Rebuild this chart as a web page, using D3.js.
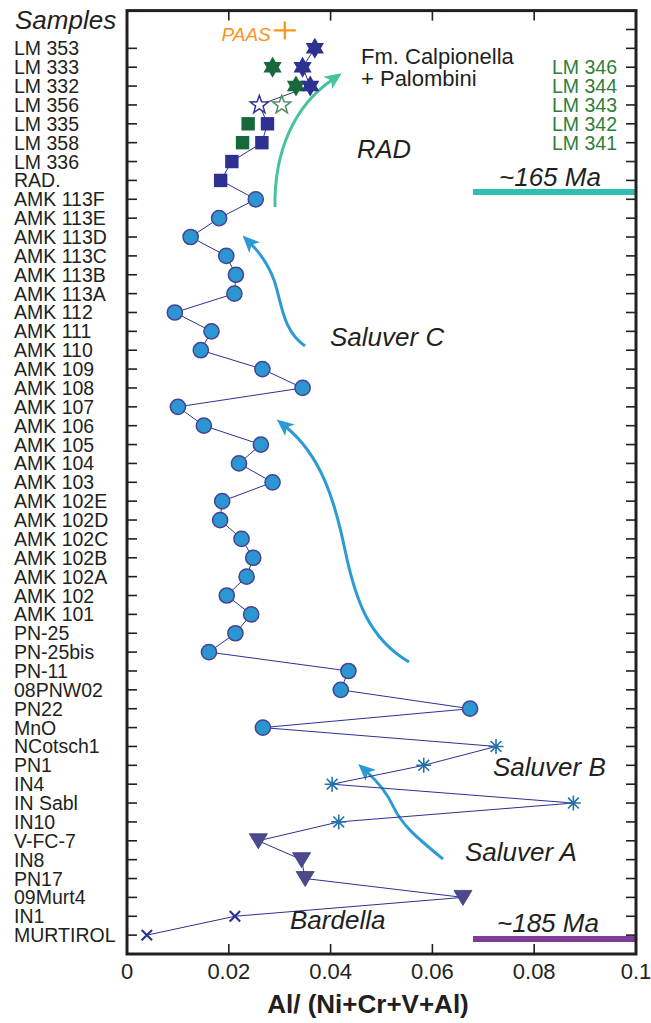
<!DOCTYPE html>
<html><head><meta charset="utf-8">
<script src="https://cdn.jsdelivr.net/npm/d3@7"></script>
<style>html,body{margin:0;padding:0;background:#fff}svg{display:block}</style>
</head><body>
<svg id="c" width="651" height="1023"></svg>
<script>
const samples = ["LM 353","LM 333","LM 332","LM 356","LM 335","LM 358","LM 336","RAD.",
"AMK 113F","AMK 113E","AMK 113D","AMK 113C","AMK 113B","AMK 113A","AMK 112","AMK 111","AMK 110",
"AMK 109","AMK 108","AMK 107","AMK 106","AMK 105","AMK 104","AMK 103","AMK 102E","AMK 102D",
"AMK 102C","AMK 102B","AMK 102A","AMK 102","AMK 101","PN-25","PN-25bis","PN-11","08PNW02","PN22",
"MnO","NCotsch1","PN1","IN4","IN Sabl","IN10","V-FC-7","IN8","PN17","09Murt4","IN1","MURTIROL"];
const mainValues = [0.0369,0.0345,0.0360,0.0260,0.0276,0.0265,0.0206,0.0184,
0.0253,0.0181,0.0125,0.0195,0.0214,0.0211,0.0094,0.0166,0.0145,
0.0266,0.0345,0.0100,0.0151,0.0263,0.0220,0.0286,0.0187,0.0183,
0.0225,0.0248,0.0235,0.0196,0.0244,0.0213,0.0161,0.0435,0.0420,0.0674,
0.0267,0.0725,0.0583,0.0403,0.0877,0.0416,0.0258,0.0343,0.0350,0.0660,0.0212,0.0039];
const mainMarkers = ["star6","star6","star6","star5open","square","square","square","square",
"circle","circle","circle","circle","circle","circle","circle","circle","circle",
"circle","circle","circle","circle","circle","circle","circle","circle","circle",
"circle","circle","circle","circle","circle","circle","circle","circle","circle","circle",
"circle","asterisk","asterisk","asterisk","asterisk","asterisk","triangle","triangle","triangle","triangle","x","x"];
const greenLabels = ["LM 346","LM 344","LM 343","LM 342","LM 341"];
const greenRows = ["LM 333","LM 332","LM 356","LM 335","LM 358"];
const greenValues = [0.0286,0.0332,0.0304,0.0238,0.0227];
const greenMarkers = ["star6","star6","star5open","square","square"];
const paasValue = 0.031;
const xTicks = [0,0.02,0.04,0.06,0.08,0.1];
const xTickLabels = ["0","0.02","0.04","0.06","0.08","0.1"];

const svg = d3.select("#c");
const FONT = "'Liberation Sans', Arial, Helvetica, sans-serif";
const INK = "#231f20";
const x = d3.scaleLinear().domain([0,0.1]).range([127,636]);
const y = d3.scaleLinear().domain([-2,48]).range([10.6,954]);
const yi = name => y(samples.indexOf(name));

// arrows (annotation curves)
const defs = svg.append("defs");
function marker(id,color){
  defs.append("marker").attr("id",id).attr("viewBox","0 0 10 10").attr("refX",3).attr("refY",5)
   .attr("markerUnits","userSpaceOnUse").attr("markerWidth",17).attr("markerHeight",15).attr("orient","auto")
   .attr("preserveAspectRatio","none")
   .append("path").attr("d","M0,0 L10,5 L0,10 L2.5,5 Z").attr("fill",color);
}
marker("aTeal","#45c39c");
marker("aBlue","#2c9ad4");
const arrows = [
  {d:"M275,207 C274,152 294,106 332,80", c:"#45c39c", m:"aTeal"},
  {d:"M305,346 C282,330 282,303 274,280 C268,264 261,254 251,244", c:"#2c9ad4", m:"aBlue"},
  {d:"M409,662 C368,638 355,598 345,550 C334,497 320,455 286,427", c:"#2c9ad4", m:"aBlue"},
  {d:"M443,859 C420,840 402,826 393,806 C387,793 378,782 367,772", c:"#2c9ad4", m:"aBlue"}
];
svg.selectAll("path.arrow").data(arrows).join("path").attr("class","arrow")
  .attr("d",d=>d.d).attr("fill","none").attr("stroke",d=>d.c).attr("stroke-width",3)
  .attr("marker-end",d=>`url(#${d.m})`);

// age bars
svg.append("line").attr("x1",473).attr("x2",x(0.1)).attr("y1",192).attr("y2",192)
  .attr("stroke","#2dbfb0").attr("stroke-width",6);
svg.append("line").attr("x1",473).attr("x2",x(0.1)).attr("y1",939).attr("y2",939)
  .attr("stroke","#7d3c98").attr("stroke-width",6);

// connecting line
const line = d3.line().x(d=>x(d.v)).y(d=>y(d.i));
const pts = mainValues.map((v,i)=>({v,i,m:mainMarkers[i]}));
svg.append("path").attr("d",line(pts)).attr("fill","none").attr("stroke","#2e3192").attr("stroke-width",1);

// marker shapes
function starPath(n,R,r){
  let p=[];
  for(let k=0;k<2*n;k++){const a=-Math.PI/2+k*Math.PI/n;const rr=k%2?r:R;p.push([rr*Math.cos(a),rr*Math.sin(a)]);}
  return "M"+p.map(q=>q[0].toFixed(2)+","+q[1].toFixed(2)).join("L")+"Z";
}
function drawMarker(g,type,cx,cy,color){
  const t=`translate(${cx},${cy})`;
  if(type==="circle"){
    g.append("circle").attr("cx",cx).attr("cy",cy).attr("r",7.6).attr("fill","#2c96d2").attr("stroke","#46438f").attr("stroke-width",1.5);
  } else if(type==="square"){
    g.append("rect").attr("x",cx-6.7).attr("y",cy-6.7).attr("width",13.4).attr("height",13.4).attr("fill",color);
  } else if(type==="star6"){
    g.append("path").attr("transform",t).attr("d",starPath(6,10.5,6.1)).attr("fill",color);
  } else if(type==="star5open"){
    g.append("path").attr("transform",t).attr("d",starPath(5,9.5,3.9)).attr("fill","#fff").attr("stroke",color).attr("stroke-width",1.5);
  } else if(type==="asterisk"){
    const s=7.5, ss=s*0.72;
    const d=`M${-s},0L${s},0M0,${-s}L0,${s}M${-ss},${-ss}L${ss},${ss}M${-ss},${ss}L${ss},${-ss}`;
    g.append("path").attr("transform",t).attr("d",d).attr("stroke","#2370aa").attr("stroke-width",1.6).attr("fill","none");
  } else if(type==="triangle"){
    g.append("path").attr("transform",t).attr("d","M-9,-7L9,-7L0,8Z").attr("fill","#4b4a8c").attr("stroke","#3c3b7a").attr("stroke-width",0.8);
  } else if(type==="x"){
    const s=5.2;
    g.append("path").attr("transform",t).attr("d",`M${-s},${-s}L${s},${s}M${-s},${s}L${s},${-s}`).attr("stroke","#2e3192").attr("stroke-width",2.2);
  }
}
const gm = svg.append("g");
greenValues.forEach((v,k)=>{
  const col = greenMarkers[k]==="star5open" ? "#4f8a5e" : "#17683a";
  drawMarker(gm,greenMarkers[k],x(v),yi(greenRows[k]),col);
});
pts.forEach(d=>drawMarker(gm,d.m,x(d.v),y(d.i),"#2e3192"));

// PAAS
svg.append("path").attr("d",`M${x(paasValue)-11},${y(-1)+1}L${x(paasValue)+11},${y(-1)+1}M${x(paasValue)},${y(-1)-8}L${x(paasValue)},${y(-1)+10}`)
  .attr("stroke","#f7941d").attr("stroke-width",2.2);
svg.append("text").attr("x",x(paasValue)-14).attr("y",41).attr("text-anchor","end")
  .attr("font-family",FONT).attr("font-style","italic").attr("font-size",19).attr("fill","#f7941d").text("PAAS");

// frame
const fr = svg.append("g").attr("stroke",INK);
fr.append("rect").attr("x",x(0)).attr("y",y(-2)).attr("width",x(0.1)-x(0)).attr("height",y(48)-y(-2))
  .attr("fill","none").attr("stroke-width",3);
fr.selectAll("line.lt").data(samples).join("line").attr("class","lt")
  .attr("x1",x(0)).attr("x2",x(0)+10).attr("y1",(d,i)=>y(i)).attr("y2",(d,i)=>y(i)).attr("stroke-width",1.6);
fr.selectAll("line.rt").data(d3.range(-1,48)).join("line").attr("class","rt")
  .attr("x1",x(0.1)).attr("x2",x(0.1)-10).attr("y1",d=>y(d)).attr("y2",d=>y(d)).attr("stroke-width",1.6);
const inner = xTicks.slice(1,-1);
fr.selectAll("line.tt").data(inner).join("line").attr("class","tt")
  .attr("x1",d=>x(d)).attr("x2",d=>x(d)).attr("y1",y(-2)).attr("y2",y(-2)+10).attr("stroke-width",1.6);
fr.selectAll("line.bt").data(inner).join("line").attr("class","bt")
  .attr("x1",d=>x(d)).attr("x2",d=>x(d)).attr("y1",y(48)).attr("y2",y(48)-10).attr("stroke-width",1.6);

// sample labels
svg.append("g").selectAll("text").data(samples).join("text")
  .attr("x",14).attr("y",(d,i)=>y(i)+7).attr("font-family",FONT).attr("font-size",19.5).attr("fill",INK).text(d=>d);
svg.append("text").attr("x",15).attr("y",29).attr("font-family",FONT).attr("font-style","italic").attr("font-size",26).attr("fill",INK).text("Samples");

// green labels
svg.append("g").selectAll("text").data(greenLabels).join("text")
  .attr("x",617).attr("y",(d,i)=>yi(greenRows[i])+7).attr("text-anchor","end")
  .attr("font-family",FONT).attr("font-size",19.5).attr("fill","#2e7d3a").text(d=>d);

// x tick labels
svg.append("g").selectAll("text").data(xTicks).join("text")
  .attr("x",d=>x(d)).attr("y",979).attr("text-anchor","middle").attr("font-family",FONT).attr("font-size",22).attr("fill",INK)
  .text((d,i)=>xTickLabels[i]);
svg.append("text").attr("x",368).attr("y",1013).attr("text-anchor","middle").attr("font-family",FONT)
  .attr("font-weight","bold").attr("font-size",26).attr("fill",INK).text("Al/ (Ni+Cr+V+Al)");

// annotations
const notes = [
  {t:"Fm. Calpionella", x:361, y:64, s:22, it:false},
  {t:"+ Palombini", x:361, y:86, s:22, it:false},
  {t:"RAD", x:357, y:158, s:25.5, it:true},
  {t:"~165 Ma", x:499, y:186, s:26, it:true},
  {t:"Saluver C", x:330, y:346, s:26, it:true},
  {t:"Saluver B", x:493, y:776, s:26, it:true},
  {t:"Saluver A", x:465, y:861, s:26, it:true},
  {t:"Bardella", x:290, y:929, s:26, it:true},
  {t:"~185 Ma", x:497, y:932, s:26, it:true}
];
svg.append("g").selectAll("text").data(notes).join("text")
  .attr("x",d=>d.x).attr("y",d=>d.y).attr("font-family",FONT).attr("font-size",d=>d.s)
  .attr("font-style",d=>d.it?"italic":"normal").attr("fill",INK).text(d=>d.t);
</script>
</body></html>
